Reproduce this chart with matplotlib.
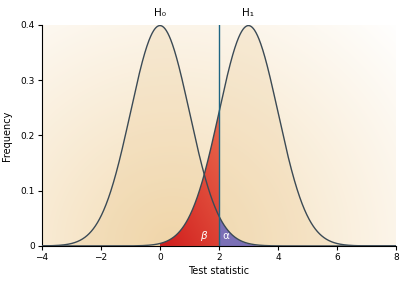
import numpy as np
import matplotlib
matplotlib.use("Agg")
import matplotlib.pyplot as plt
from matplotlib.colors import LinearSegmentedColormap, to_rgb
from matplotlib.patches import Polygon

# Data
mu0, mu1, sigma = 0.0, 3.0, 1.0
critical = 2.0
x = np.linspace(-4, 8, 1200)
h_labels = ["H\u2080", "H\u2081"]
xticks = [-4, -2, 0, 2, 4, 6, 8]
yticks = [0, 0.1, 0.2, 0.3, 0.4]
yticklabels = ["0", "0.1", "0.2", "0.3", "0.4"]

def pdf(v, m, s):
    return np.exp(-0.5 * ((v - m) / s) ** 2) / (s * np.sqrt(2 * np.pi))

y0 = pdf(x, mu0, sigma)
y1 = pdf(x, mu1, sigma)

fig = plt.figure(figsize=(4.1, 2.84), dpi=100)
ax = fig.add_axes([0.1024, 0.134, 0.8634, 0.778])
ax.set_xlim(-4, 8)
ax.set_ylim(0, 0.4)

# radial background gradient (in pixel-ish units)
W, H = 354, 221
gx, gy = np.meshgrid(np.arange(W), np.arange(H))
cx, cy = 130, H  # center near bottom (y index from top)
d = np.sqrt((gx - cx) ** 2 + (gy - cy) ** 2) / 320.0
d = np.clip(d, 0, 1)
c_in = np.array(to_rgb("#f3dab0"))
c_out = np.array([1, 1, 1])
t = d[..., None] ** 0.9
img = c_in * (1 - t) + c_out * t
ax.imshow(img, extent=[-4, 8, 0, 0.4], origin="upper", aspect="auto", zorder=0)

# translucent fill under curves
ax.fill_between(x, 0, y0, color="#e9c892", alpha=0.25, lw=0, zorder=1)
ax.fill_between(x, 0, y1, color="#e9c892", alpha=0.25, lw=0, zorder=1)

# beta region (under H1 left of critical) with red gradient
mb = x <= critical
xb = np.concatenate([[x[mb][0]], x[mb], [critical, critical]])
yb = np.concatenate([[0], y1[mb], [pdf(critical, mu1, sigma), 0]])
poly = Polygon(np.column_stack([xb, yb]), closed=True, facecolor="none", edgecolor="none")
ax.add_patch(poly)
rg = np.linspace(0, 1, 200)
RX, RY = np.meshgrid(np.linspace(0, 1, 200), np.linspace(1, 0, 200))
tt = np.clip(0.55 * RY + 0.45 * RX, 0, 1)[..., None]
red_lo = np.array(to_rgb("#d01c1c"))
red_hi = np.array(to_rgb("#ea6a4e"))
rimg = red_lo * (1 - tt) + red_hi * tt
im = ax.imshow(rimg, extent=[0, critical, 0, 0.25], origin="upper", aspect="auto", zorder=2)
im.set_clip_path(poly)

# alpha region
ma = x >= critical
ax.fill_between(x[ma], 0, y0[ma], color="#7b70b6", lw=0, zorder=2)

# curves
ax.plot(x, y0, color="#3b4a55", lw=1.0, zorder=3)
ax.plot(x, y1, color="#3b4a55", lw=1.0, zorder=3)

# critical line
ax.plot([critical, critical], [0, 0.4], color="#1d6584", lw=1.0, zorder=4)

ax.text(1.35, 0.012, "\u03b2", color="white", fontsize=7.5, style="italic", zorder=5)
ax.text(2.12, 0.012, "\u03b1", color="white", fontsize=7.5, zorder=5)

ax.text(mu0, 0.413, h_labels[0], ha="center", va="bottom", fontsize=7.5)
ax.text(mu1, 0.413, h_labels[1], ha="center", va="bottom", fontsize=7.5)

ax.set_xticks(xticks)
ax.set_yticks(yticks)
ax.set_yticklabels(yticklabels)
ax.tick_params(labelsize=6.5, length=3, width=0.8, pad=2)
for s in ["top", "right"]:
    ax.spines[s].set_visible(False)
for s in ["left", "bottom"]:
    ax.spines[s].set_linewidth(0.8)
ax.set_xlabel("Test statistic", fontsize=7, labelpad=3)
ax.set_ylabel("Frequency", fontsize=7, labelpad=6)

fig.savefig("out.png", dpi=100)
